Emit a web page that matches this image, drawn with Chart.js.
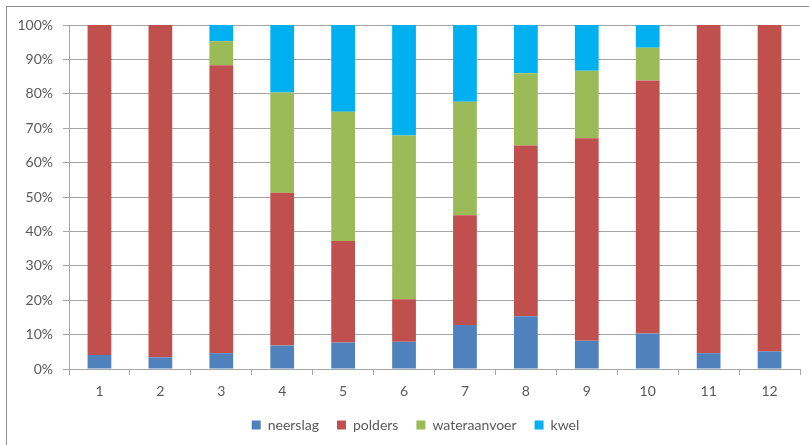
<!DOCTYPE html>
<html>
<head>
<meta charset="utf-8">
<script src="https://cdn.jsdelivr.net/npm/chart.js@4"></script>
<style>
    html, body { margin: 0; padding: 0; background: #fff; }
    #wrap { position: relative; width: 809px; height: 445px; }
</style>
</head>
<body>
<div id="wrap"><canvas id="chart" width="809" height="445"></canvas></div>
<script>
    // shares per month, in percent of the total
    const months = ['1', '2', '3', '4', '5', '6', '7', '8', '9', '10', '11', '12'];
    const neerslag = [4.1, 3.4, 4.6, 6.8, 7.7, 7.9, 12.8, 15.3, 8.2, 10.3, 4.6, 5.1];
    const polders = [95.9, 96.6, 83.7, 44.4, 29.5, 12.4, 31.9, 49.7, 58.9, 73.6, 95.4, 94.9];
    const wateraanvoer = [0, 0, 7.0, 29.2, 37.6, 47.6, 33.0, 21.0, 19.6, 9.5, 0, 0];
    const kwel = [0, 0, 4.7, 19.6, 25.2, 32.1, 22.3, 14.0, 13.3, 6.6, 0, 0];
    const yTicks = [0, 10, 20, 30, 40, 50, 60, 70, 80, 90, 100];

    const textColor = '#595959';
    const gridColor = '#a6a6a6';
    const fontFamily = 'Lato, "DejaVu Sans", sans-serif';

    const frame = {
        id: 'frame',
        afterLayout(chart) {
            // legend is centred under the plot area in the original
            chart.legend.left += 31;
        },
        beforeDraw(chart) {
            const c = chart.ctx;
            c.save();
            c.fillStyle = '#fff';
            c.fillRect(0, 0, chart.width, chart.height);
            c.strokeStyle = '#8c8c8c';
            c.lineWidth = 1;
            c.strokeRect(6.5, 6.5, chart.width + 10, chart.height + 10);
            c.restore();
        }
    };

    function series(label, data, color) {
        return {
            label: label,
            data: data,
            backgroundColor: color,
            borderWidth: 0,
            barPercentage: 0.39,
            categoryPercentage: 1
        };
    }

    const ctx = document.getElementById('chart').getContext('2d');
    new Chart(ctx, {
        type: 'bar',
        data: {
            labels: months,
            datasets: [
                series('neerslag', neerslag, '#4f81bd'),
                series('polders', polders, '#c0504d'),
                series('wateraanvoer', wateraanvoer, '#9bbb59'),
                series('kwel', kwel, '#00b0f0')
            ]
        },
        options: {
            responsive: false,
            animation: false,
            layout: { padding: { left: 0, right: 9, top: 25, bottom: 3 } },
            plugins: {
                tooltip: { enabled: false },
                legend: {
                    position: 'bottom',
                    labels: {
                        boxWidth: 9,
                        boxHeight: 9,
                        padding: 18,
                        color: textColor,
                        font: { family: fontFamily, size: 14 }
                    }
                }
            },
            scales: {
                x: {
                    stacked: true,
                    grid: { offset: true, drawOnChartArea: false, tickLength: 6, color: gridColor },
                    border: { display: true, color: gridColor },
                    ticks: { color: textColor, padding: 8, font: { family: fontFamily, size: 14 } },
                    afterFit(scale) { scale.height = 31; }
                },
                y: {
                    stacked: true,
                    min: 0,
                    max: 100,
                    afterBuildTicks(scale) { scale.ticks = yTicks.map(v => ({ value: v })); },
                    grid: { color: gridColor, tickLength: 6 },
                    border: { display: true, color: gridColor },
                    ticks: {
                        color: textColor,
                        padding: 10,
                        font: { family: fontFamily, size: 14 },
                        callback: v => v + '%'
                    },
                    afterFit(scale) { scale.width = 69; }
                }
            }
        },
        plugins: [frame]
    });
</script>
</body>
</html>
